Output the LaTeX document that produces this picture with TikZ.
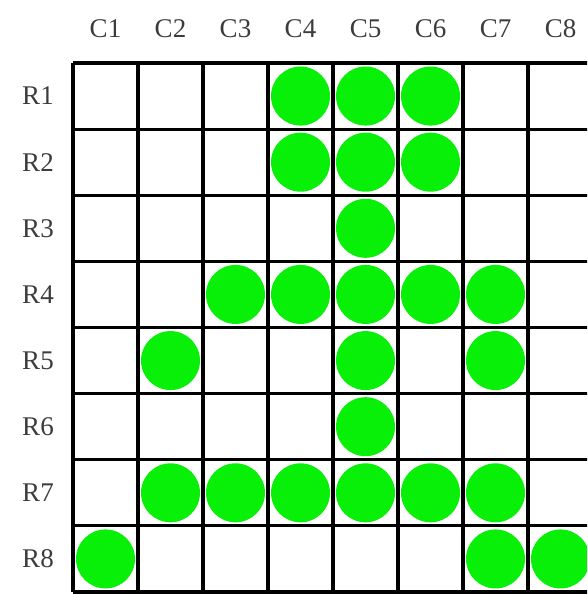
\documentclass[tikz,border=0pt]{standalone}
\usepackage{fontspec}
\setmainfont{Liberation Serif}
\definecolor{dotgreen}{RGB}{8,240,8}
\definecolor{labelgray}{RGB}{60,60,60}
\begin{document}
\begin{tikzpicture}[x=1pt,y=-1pt,
  dot/.style={circle,fill=dotgreen,inner sep=0pt,minimum size=59pt},
  lab/.style={font=\fontsize{27}{27}\selectfont,text=labelgray,inner sep=0pt},
  gridline/.style={line width=3.2pt,black}]
\useasboundingbox (0,0) rectangle (587,594);
\clip (0,0) rectangle (587,594);
\fill[white] (0,0) rectangle (587,594);
% green dots
\foreach \r/\c in {1/4,1/5,1/6,2/4,2/5,2/6,3/5,4/3,4/4,4/5,4/6,4/7,5/2,5/5,5/7,6/5,7/2,7/3,7/4,7/5,7/6,7/7,8/1,8/7,8/8}
  \node[dot] (d\r-\c) at ({73+65*(\c-0.5)},{63+66.125*(\r-0.5)}) {};
% grid
\foreach \i in {0,...,8} {
  \draw[gridline] ({73+65*\i},63) -- ({73+65*\i},592);
  \draw[gridline] (73,{63+66.125*\i}) -- (593,{63+66.125*\i});
}
% labels
\foreach \c in {1,...,8}
  \node[lab] (c\c) at ({73+65*(\c-0.5)},29) {C\c};
\foreach \r in {1,...,8}
  \node[lab] (r\r) at (38,{63+66.125*(\r-0.5)}) {R\r};
\end{tikzpicture}
\end{document}
